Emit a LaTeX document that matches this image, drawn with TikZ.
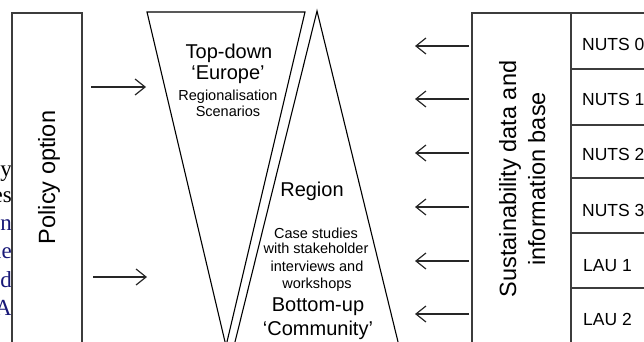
\documentclass[tikz,border=0pt]{standalone}
\usepackage{fontspec}
\setmainfont{Liberation Sans}
\newfontfamily\serifpage{Liberation Serif}
\usetikzlibrary{arrows.meta}
\definecolor{fragblue}{RGB}{25,25,120}
\definecolor{boxgray}{RGB}{60,60,60}
\tikzset{
 boxline/.style={draw=boxgray, line width=1.3pt},
 triline/.style={draw=black, line width=1.1pt, line join=miter},
 arr/.style={-{Straight Barb[length=10pt,width=16pt]}, line width=1.2pt, draw=black!85},
 big/.style={font=\fontsize{20}{24}\selectfont, anchor=base, inner sep=0pt},
 small/.style={font=\fontsize{14.5}{17}\selectfont, anchor=base, inner sep=0pt},
 vert/.style={font=\fontsize{23.5}{28}\selectfont, rotate=90, anchor=base, inner sep=0pt},
 nuts/.style={font=\fontsize{17.5}{21}\selectfont, anchor=base west, inner sep=0pt},
 frag/.style={font=\serifpage\fontsize{23}{28}\selectfont, anchor=base east, inner sep=0pt},
}
\begin{document}
\begin{tikzpicture}[x=1pt,y=-1pt]
\useasboundingbox (0,0) rectangle (644,342);
\clip (0,0) rectangle (644,342);
% page text fragments at left
\node[frag] (f1) at (12,176) {y};
\node[frag] (f2) at (12,202) {es};
\node[frag,text=fragblue] (f3) at (12,230) {n};
\node[frag,text=fragblue] (f4) at (12,258) {le};
\node[frag,text=fragblue] (f5) at (12,287) {d};
\node[frag,text=fragblue] (f6) at (12,315) {A};
% policy box
\path[boxline] (12,360) -- (12,13) -- (82,13) -- (82,360);
\node[vert] (policy) at (55,177.5) {Policy option};
% arrows from policy
\coordinate (pa1) at (91,87);  \coordinate (pb1) at (146,87);
\coordinate (pa2) at (93,277); \coordinate (pb2) at (147,277);
\draw[arr] (pa1) -- (pb1);
\draw[arr] (pa2) -- (pb2);
% funnel shapes
\path[triline] (147,12) -- (305,12) -- (226,346) -- cycle;
\path[triline] (233,350) -- (317,11) -- (400,350);
% top-down text
\node[big] (td1) at (229,58.3) {Top-down};
\node[big] (td2) at (228,80) {‘Europe’};
\node[small] (td3) at (228,100.7) {Regionalisation};
\node[small] (td4) at (228,116.7) {Scenarios};
% region text
\node[big] (r1) at (312,196) {Region};
\node[small] (r2) at (316,238.3) {Case studies};
\node[small] (r3) at (316,253.3) {with stakeholder};
\node[small] (r4) at (317,271) {interviews and};
\node[small] (r5) at (317,288.3) {workshops};
\node[big] (r6) at (318,311.7) {Bottom-up};
\node[big] (r7) at (318,335) {‘Community’};
% sustainability box
\path[boxline] (472,360) -- (472,13) -- (571,13);
\node[vert] (sd1) at (516,179) {Sustainability data and};
\node[vert] (sd2) at (545,179) {information base};
% table
\path[boxline] (571,360) -- (571,13) -- (660,13);
\foreach \yy in {69,125,178,233,288}{\path[boxline] (571,\yy) -- (660,\yy);}
\node[nuts] (n0) at (582,51) {NUTS 0};
\node[nuts] (n1) at (582,106) {NUTS 1};
\node[nuts] (n2) at (582,160) {NUTS 2};
\node[nuts] (n3) at (582,216.5) {NUTS 3};
\node[nuts] (n4) at (583,271.5) {LAU 1};
\node[nuts] (n5) at (583,325) {LAU 2};
% arrows from data base
\foreach \yy [count=\i] in {46,99,153,207,261,314}{
  \coordinate (sa\i) at (469,\yy);
  \coordinate (sb\i) at (415,\yy);
  \draw[arr] (sa\i) -- (sb\i);
}
\end{tikzpicture}
\end{document}
